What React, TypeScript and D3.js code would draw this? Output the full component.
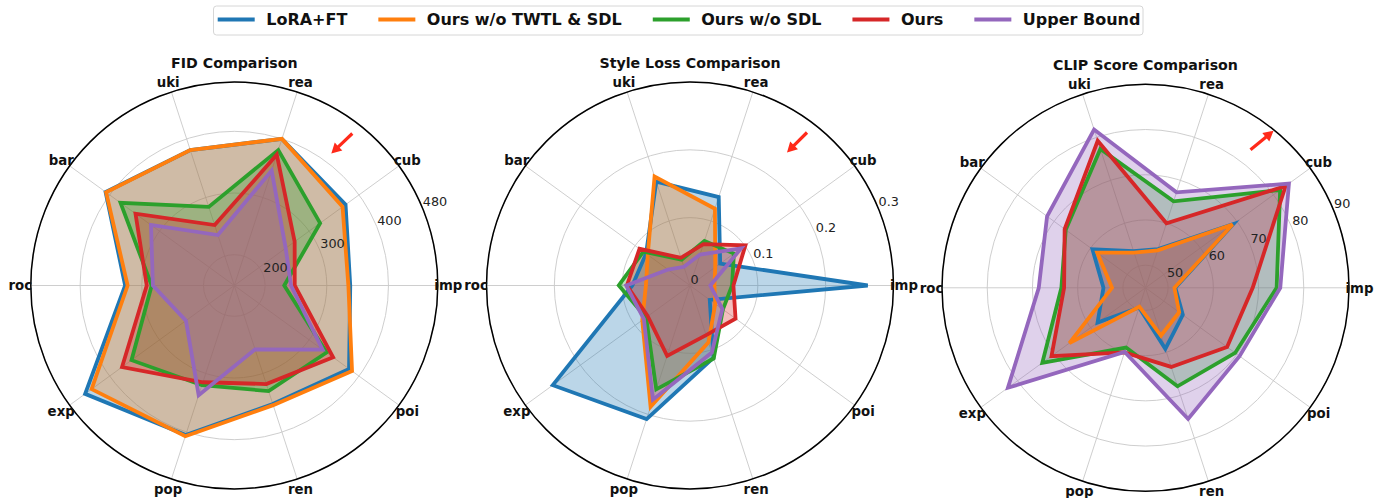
import React, { useMemo } from 'react';
import * as d3 from 'd3';

// ---------- data ----------
const categories = ['imp', 'cub', 'rea', 'uki', 'bar', 'roc', 'exp', 'pop', 'ren', 'poi'];
const seriesNames = ['LoRA+FT', 'Ours w/o TWTL & SDL', 'Ours w/o SDL', 'Ours', 'Upper Bound'];
const seriesColors = ['#1f77b4', '#ff7f0e', '#2ca02c', '#d62728', '#9467bd'];

// FID (lower is better)
const fidLoraFT = [338, 373, 400, 381, 408, 327, 449, 405, 352, 380];
const fidNoTwtlSdl = [335, 367, 400, 381, 407, 323, 436, 407, 354, 386];
const fidNoSdl = [231, 322, 381, 284, 378, 284, 356, 320, 330, 335];
const fidOurs = [248, 271, 373, 253, 348, 292, 375, 315, 318, 348];
const fidUpper = [242, 253, 346, 236, 317, 282, 247, 337, 259, 327];
const fidTicks = [200, 300, 400, 480];

// Style loss (lower is better)
const styleLoraFT = [0.262, 0.055, 0.137, 0.161, 0.08, 0.085, 0.25, 0.207, 0.112, 0.036];
const styleNoTwtlSdl = [0.036, 0.046, 0.119, 0.169, 0.077, 0.065, 0.087, 0.188, 0.088, 0.046];
const styleNoSdl = [0.062, 0.08, 0.069, 0.04, 0.085, 0.105, 0.08, 0.161, 0.113, 0.06];
const styleOurs = [0.064, 0.101, 0.064, 0.043, 0.092, 0.093, 0.077, 0.109, 0.077, 0.083];
const styleUpper = [0.03, 0.093, 0.048, 0.029, 0.04, 0.094, 0.084, 0.177, 0.104, 0.059];
const styleTicks = [0, 0.1, 0.2, 0.3];

// CLIP score (higher is better)
const clipLoraFT = [51.6, 69.0, 54.0, 53.5, 59.5, 54.3, 58.1, 49.6, 59.2, 55.2];
const clipNoTwtlSdl = [51.4, 68.8, 53.7, 53.2, 58.2, 52.4, 65.8, 49.4, 56.1, 54.2];
const clipNoSdl = [74.0, 81.8, 65.1, 77.3, 66.8, 63.6, 73.2, 58.9, 67.9, 69.5];
const clipOurs = [68.7, 83.3, 60.0, 79.2, 67.1, 63.0, 70.7, 60.0, 63.4, 67.3];
const clipUpper = [74.8, 84.2, 67.2, 81.8, 71.9, 68.6, 82.6, 59.9, 75.5, 70.7];
const clipTicks = [50, 60, 70, 80, 90];

const charts = [
  { title: 'FID Comparison', domain: [150, 480], ticks: fidTicks, series: [fidLoraFT, fidNoTwtlSdl, fidNoSdl, fidOurs, fidUpper] },
  { title: 'Style Loss Comparison', domain: [0, 0.3], ticks: styleTicks, series: [styleLoraFT, styleNoTwtlSdl, styleNoSdl, styleOurs, styleUpper] },
  { title: 'CLIP Score Comparison', domain: [45, 90], ticks: clipTicks, series: [clipLoraFT, clipNoTwtlSdl, clipNoSdl, clipOurs, clipUpper] },
];

// ---------- layout ----------
const W = 1381;
const H = 498;
const R = 203.5;
const FONT = '"DejaVu Sans", sans-serif';
const layout = [
  { cx: 234.3, cy: 285.5, arrow: { from: [118, -152], to: [97, -132] } },
  { cx: 690, cy: 285.5, arrow: { from: [117, -153], to: [97, -133] } },
  { cx: 1145.5, cy: 287.8, arrow: { from: [105, -138], to: [128, -157] } },
];

function Arrow({ from, to }: { from: number[]; to: number[] }) {
  const [x0, y0] = from;
  const [x1, y1] = to;
  const dx = x1 - x0, dy = y1 - y0;
  const len = Math.hypot(dx, dy);
  const ux = dx / len, uy = dy / len;
  const px = -uy, py = ux;
  const headL = 10, headW = 5.5, shaftW = 1.6;
  const bx = x1 - ux * headL, by = y1 - uy * headL;
  const pts = [
    [x0 + px * shaftW, y0 + py * shaftW],
    [bx + px * shaftW, by + py * shaftW],
    [bx + px * headW, by + py * headW],
    [x1, y1],
    [bx - px * headW, by - py * headW],
    [bx - px * shaftW, by - py * shaftW],
    [x0 - px * shaftW, y0 - py * shaftW],
  ];
  return <polygon points={pts.map(p => p.join(',')).join(' ')} fill="#ff2a1a" />;
}

function Radar({ cfg, lay }: any) {
  const r = d3.scaleLinear().domain(cfg.domain).range([0, R]);
  const n = categories.length;
  const ang = (i: number) => (i * 2 * Math.PI) / n;
  const path = d3
    .lineRadial<number>()
    .angle((_d, i) => Math.PI / 2 - ang(i))
    .radius(d => r(d))
    .curve(d3.curveLinearClosed);
  const labA = (22.5 * Math.PI) / 180;
  const fmt = (v: number) => String(v);
  return (
    <g transform={`translate(${lay.cx},${lay.cy})`}>
      {cfg.ticks.map((t: number, k: number) =>
        r(t) > 0.5 ? (
          <circle key={'g' + k} r={r(t)} fill="none" stroke="#c8c8c8" strokeWidth={0.9} />
        ) : null
      )}
      {categories.map((c, i) => (
        <line key={'s' + c} x1={0} y1={0} x2={R * Math.cos(ang(i))} y2={-R * Math.sin(ang(i))} stroke="#c8c8c8" strokeWidth={0.9} />
      ))}
      {cfg.series.map((s: number[], k: number) => (
        <path key={'f' + k} d={path(s) || ''} fill={seriesColors[k]} fillOpacity={0.3} stroke="none" />
      ))}
      {cfg.series.map((s: number[], k: number) => (
        <path key={'l' + k} d={path(s) || ''} fill="none" stroke={seriesColors[k]} strokeWidth={3.8} strokeLinejoin="miter" />
      ))}
      <circle r={R} fill="none" stroke="#000" strokeWidth={1.5} />
      {cfg.ticks.map((t: number, k: number) => {
        const rr = r(t);
        return (
          <text key={'t' + k} x={rr * Math.cos(labA) + 0.5} y={-rr * Math.sin(labA) - 2} fontSize={12.8} fontFamily={FONT} fill="#222">
            {fmt(t)}
          </text>
        );
      })}
      {categories.map((c, i) => (
        <text
          key={'c' + c}
          x={(R + 10.5) * Math.cos(ang(i))}
          y={-(R + 10.5) * Math.sin(ang(i))}
          dy="0.36em"
          textAnchor="middle"
          fontSize={13.3}
          fontWeight="bold"
          fontFamily={FONT}
          fill="#111"
        >
          {c}
        </text>
      ))}
      <text x={0} y={-R - 14} textAnchor="middle" fontSize={14.2} fontWeight="bold" fontFamily={FONT} fill="#111">
        {cfg.title}
      </text>
      <Arrow from={lay.arrow.from} to={lay.arrow.to} />
    </g>
  );
}

function Legend() {
  const items = useMemo(() => {
    const cv = document.createElement('canvas');
    const ctx = cv.getContext('2d')!;
    ctx.font = `bold 16px ${FONT}`;
    let x = 217.7;
    return seriesNames.map((name, k) => {
      const w = ctx.measureText(name).width;
      const it = { name, color: seriesColors[k], x, tx: x + 48.5 };
      x = x + 48.5 + w + 31;
      return it;
    });
  }, []);
  return (
    <g>
      <rect x={213.5} y={6} width={929.5} height={29} rx={3} fill="#fff" fillOpacity={0.9} stroke="#d6d6d6" strokeWidth={1} />
      {items.map(it => (
        <g key={it.name}>
          <line x1={it.x} x2={it.x + 37} y1={19.5} y2={19.5} stroke={it.color} strokeWidth={4} />
          <text x={it.tx} y={25.3} fontSize={16} fontWeight="bold" fontFamily={FONT} fill="#111">
            {it.name}
          </text>
        </g>
      ))}
    </g>
  );
}

export default function App() {
  return (
    <div style={{ position: 'absolute', left: 0, top: 0 }}>
      <svg width={W} height={H} viewBox={`0 0 ${W} ${H}`} style={{ display: 'block', background: '#fff' }}>
        {charts.map((c, k) => (
          <Radar key={c.title} cfg={c} lay={layout[k]} />
        ))}
        <Legend />
      </svg>
    </div>
  );
}
